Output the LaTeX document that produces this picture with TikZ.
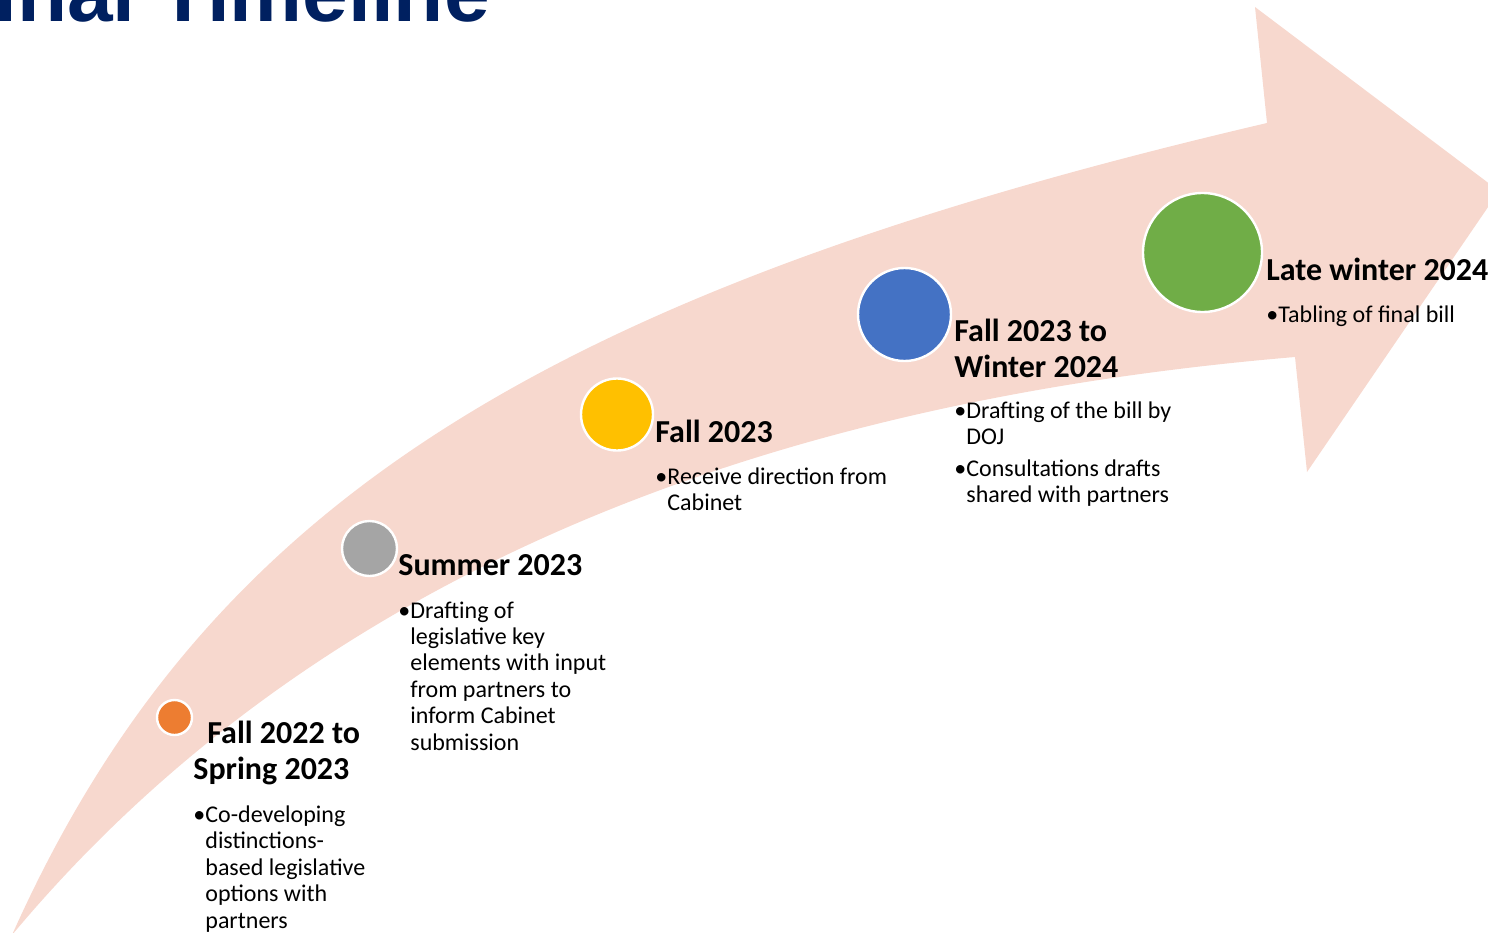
\documentclass[tikz,border=0pt]{standalone}
\usepackage{fontspec}
\setmainfont{Carlito}
\newfontfamily\titlefont{Liberation Sans}

\definecolor{arrowpink}{HTML}{F7D8CE}
\definecolor{titlenavy}{HTML}{002060}
\definecolor{dotorange}{HTML}{ED7D31}
\definecolor{dotgray}{HTML}{A5A5A5}
\definecolor{dotyellow}{HTML}{FFC000}
\definecolor{dotblue}{HTML}{4472C4}
\definecolor{dotgreen}{HTML}{70AD47}

\tikzset{
    milestone/.style={circle, draw=white, line width=1.2pt, inner sep=0pt},
    phase/.style={anchor=base west, inner sep=0pt, align=left,
        font=\bfseries\fontsize{16}{18}\selectfont},
    detail/.style={anchor=base west, inner sep=0pt, align=left,
        font=\fontsize{12}{13.2}\selectfont},
}

\begin{document}
\begin{tikzpicture}[x=0.5pt, y=-0.5pt]

    \useasboundingbox (0,0) rectangle (1488,932);
    \clip (0,0) rectangle (1488,932);

    % Title (runs off the top of the slide)
    \node[anchor=base east, inner sep=0pt, text=titlenavy,
          font=\titlefont\bfseries\fontsize{41}{41}\selectfont] (title) at (490,21) {Final Timeline};

    % Curved arrow
    \fill[arrowpink] (12,935) .. controls (202,510) and (535,294) .. (1267,123)
        -- (1255,7) -- (1499,191) -- (1307,472) -- (1295,357)
        .. controls (725,405) and (296,595) .. (12,935) -- cycle;

    % Milestone dots
    \node[milestone, fill=dotorange, minimum size=17.5pt] (dot1) at (174.5,717.5) {};
    \node[milestone, fill=dotgray, minimum size=27.5pt] (dot2) at (369.5,548.5) {};
    \node[milestone, fill=dotyellow, minimum size=36pt] (dot3) at (617,414.5) {};
    \node[milestone, fill=dotblue, minimum size=46.5pt] (dot4) at (904.5,314.5) {};
    \node[milestone, fill=dotgreen, minimum size=59.5pt] (dot5) at (1202.5,252.5) {};

    % Phase headings (base = last line)
    \node[phase] (phase1) at (193,779) {\hspace*{7pt}Fall 2022 to\\Spring 2023};
    \node[phase] (phase2) at (398,575) {Summer 2023};
    \node[phase] (phase3) at (655,442) {Fall 2023};
    \node[phase] (phase4) at (954,377) {Fall 2023 to\\Winter 2024};
    \node[phase] (phase5) at (1266,280) {Late winter 2024};

    % Bullet text (base = last line)
    \node[detail] (text1) at (205,928) {\llap{•}Co-developing\\distinctions-\\based legislative\\options with\\partners};
    \node[detail] (text2) at (410,750) {\llap{•}Drafting of\\legislative key\\elements with input\\from partners to\\inform Cabinet\\submission};
    \node[detail] (text3) at (667,510.5) {\llap{•}Receive direction from\\Cabinet};
    \node[detail] (text4) at (966,502.5) {\llap{•}Drafting of the bill by\\DOJ\\[2.5pt]\llap{•}Consultations drafts\\shared with partners};
    \node[detail] (text5) at (1278,322) {\llap{•}Tabling of final bill};

\end{tikzpicture}
\end{document}
